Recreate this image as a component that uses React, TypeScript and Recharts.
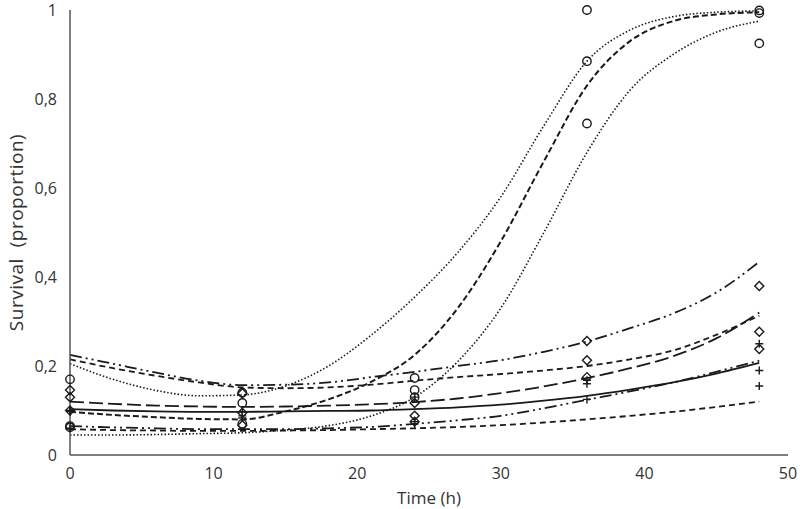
import React from "react";
import {
  ComposedChart,
  Line,
  Scatter,
  XAxis,
  YAxis,
  Label,
} from "recharts";

const times = [0, 3, 6, 9, 12, 15, 18, 21, 24, 27, 30, 33, 36, 39, 42, 45, 48];

// fitted curves, survival proportion
const upperDotted = [0.205, 0.17, 0.145, 0.133, 0.135, 0.155, 0.2, 0.27, 0.355, 0.455, 0.58, 0.74, 0.885, 0.955, 0.985, 0.995, 0.998];
const midDashed = [0.097, 0.09, 0.085, 0.081, 0.08, 0.098, 0.125, 0.165, 0.225, 0.33, 0.48, 0.66, 0.83, 0.93, 0.975, 0.99, 0.995];
const lowerDotted = [0.045, 0.045, 0.046, 0.048, 0.05, 0.056, 0.066, 0.088, 0.13, 0.21, 0.33, 0.5, 0.68, 0.82, 0.9, 0.95, 0.975];
const topDashDot = [0.225, 0.205, 0.185, 0.167, 0.157, 0.158, 0.163, 0.175, 0.187, 0.2, 0.213, 0.232, 0.255, 0.285, 0.318, 0.365, 0.434];
const upperShortDash = [0.215, 0.195, 0.178, 0.163, 0.152, 0.15, 0.152, 0.158, 0.167, 0.175, 0.182, 0.19, 0.2, 0.215, 0.235, 0.27, 0.313];
const longDash = [0.12, 0.115, 0.111, 0.109, 0.108, 0.109, 0.111, 0.114, 0.119, 0.127, 0.139, 0.154, 0.173, 0.195, 0.222, 0.262, 0.32];
const solid = [0.103, 0.1, 0.098, 0.097, 0.097, 0.098, 0.099, 0.1, 0.103, 0.107, 0.113, 0.122, 0.133, 0.147, 0.163, 0.183, 0.207];
const lowDashDot = [0.065, 0.062, 0.06, 0.058, 0.058, 0.058, 0.06, 0.063, 0.07, 0.078, 0.088, 0.105, 0.124, 0.143, 0.163, 0.187, 0.212];
const lowShortDash = [0.058, 0.056, 0.055, 0.054, 0.054, 0.055, 0.056, 0.058, 0.06, 0.063, 0.067, 0.073, 0.08, 0.088, 0.097, 0.108, 0.12];

// observed points
const obsTimes = [0, 0, 0, 12, 12, 12, 24, 24, 24, 36, 36, 36, 48, 48, 48];
const circleObs = [0.17, 0.065, 0.062, 0.14, 0.117, 0.07, 0.173, 0.146, 0.13, 1.0, 0.885, 0.745, 0.999, 0.993, 0.925];
const diamondObs = [0.146, 0.13, 0.1, 0.139, 0.095, 0.067, 0.117, 0.088, 0.075, 0.256, 0.213, 0.175, 0.38, 0.277, 0.238];
const plusObs = [0.1, 0.098, 0.06, 0.097, 0.088, 0.083, 0.13, 0.075, 0.07, 0.168, 0.16, 0.125, 0.25, 0.19, 0.155];

const xTicks = [0, 10, 20, 30, 40, 50];
const yTicks = [0, 0.2, 0.4, 0.6, 0.8, 1];

const curves = [
  { key: "upperDotted", values: upperDotted, dash: "1.5 2", width: 1.6 },
  { key: "midDashed", values: midDashed, dash: "6 3", width: 2 },
  { key: "lowerDotted", values: lowerDotted, dash: "1.5 2", width: 1.6 },
  { key: "topDashDot", values: topDashDot, dash: "12 4 2 4 2 4", width: 1.8 },
  { key: "upperShortDash", values: upperShortDash, dash: "6 4", width: 1.8 },
  { key: "longDash", values: longDash, dash: "14 5", width: 1.8 },
  { key: "solid", values: solid, dash: undefined, width: 1.8 },
  { key: "lowDashDot", values: lowDashDot, dash: "12 4 2 4 2 4", width: 1.8 },
  { key: "lowShortDash", values: lowShortDash, dash: "6 4", width: 1.8 },
];

const table = times.map((t, i) => {
  const row: Record<string, number> = { t };
  curves.forEach((c) => {
    row[c.key] = c.values[i];
  });
  return row;
});

const toPoints = (vals: number[]) => vals.map((v, i) => ({ t: obsTimes[i], v }));

const INK = "#1a1a1a";
const TEXT = "#333";
const FONT = "'Open Sans', sans-serif";

const CircleMark = (p: any) => (
  <circle cx={p.cx} cy={p.cy} r={4.2} fill="none" stroke={INK} strokeWidth={1.4} />
);
const DiamondMark = (p: any) => (
  <path
    d={`M${p.cx},${p.cy - 4.5}L${p.cx + 4.5},${p.cy}L${p.cx},${p.cy + 4.5}L${p.cx - 4.5},${p.cy}Z`}
    fill="none"
    stroke={INK}
    strokeWidth={1.4}
  />
);
const PlusMark = (p: any) => (
  <path
    d={`M${p.cx - 4},${p.cy}H${p.cx + 4}M${p.cx},${p.cy - 4}V${p.cy + 4}`}
    stroke={INK}
    strokeWidth={1.4}
  />
);

const fmt = (v: number) => String(v).replace(".", ",");

export default function App() {
  return (
    <div style={{ position: "absolute", left: 0, top: 0, width: 800, height: 509, background: "#fff" }}>
      <ComposedChart
        width={800}
        height={509}
        data={table}
        margin={{ top: 10, right: 12, left: 0, bottom: 0 }}
      >
        <XAxis
          dataKey="t"
          type="number"
          domain={[0, 50]}
          ticks={xTicks}
          tickLine={false}
          tickSize={0}
          tickMargin={13}
          height={54}
          stroke="#555"
          strokeWidth={1.5}
          tick={{ fill: TEXT, fontSize: 16, fontFamily: FONT }}
        >
          <Label
            content={({ viewBox }: any) => (
              <text
                x={viewBox.x + viewBox.width / 2}
                y={viewBox.y + 49}
                textAnchor="middle"
                fill={TEXT}
                fontSize={17}
                fontFamily={FONT}
              >
                Time (h)
              </text>
            )}
          />
        </XAxis>
        <YAxis
          type="number"
          domain={[0, 1]}
          ticks={yTicks}
          tickFormatter={fmt}
          tickLine={false}
          tickSize={0}
          tickMargin={13}
          width={70}
          stroke="#555"
          strokeWidth={1.5}
          tick={{ fill: TEXT, fontSize: 16, fontFamily: FONT }}
        >
          <Label
            content={({ viewBox }: any) => {
              const cx = 16;
              const cy = viewBox.y + viewBox.height / 2;
              return (
                <text
                  x={cx}
                  y={cy}
                  transform={`rotate(-90 ${cx} ${cy})`}
                  textAnchor="middle"
                  dominantBaseline="central"
                  fill={TEXT}
                  fontSize={19}
                  letterSpacing={0.5}
                  fontFamily={FONT}
                  style={{ whiteSpace: "pre" }}
                >
                  {"Survival  (proportion)"}
                </text>
              );
            }}
          />
        </YAxis>
        {curves.map((c) => (
          <Line
            key={c.key}
            dataKey={c.key}
            type="monotone"
            stroke={INK}
            strokeWidth={c.width}
            strokeDasharray={c.dash}
            dot={false}
            activeDot={false}
            isAnimationActive={false}
          />
        ))}
        <Scatter data={toPoints(circleObs)} dataKey="v" shape={CircleMark} isAnimationActive={false} />
        <Scatter data={toPoints(diamondObs)} dataKey="v" shape={DiamondMark} isAnimationActive={false} />
        <Scatter data={toPoints(plusObs)} dataKey="v" shape={PlusMark} isAnimationActive={false} />
      </ComposedChart>
    </div>
  );
}
